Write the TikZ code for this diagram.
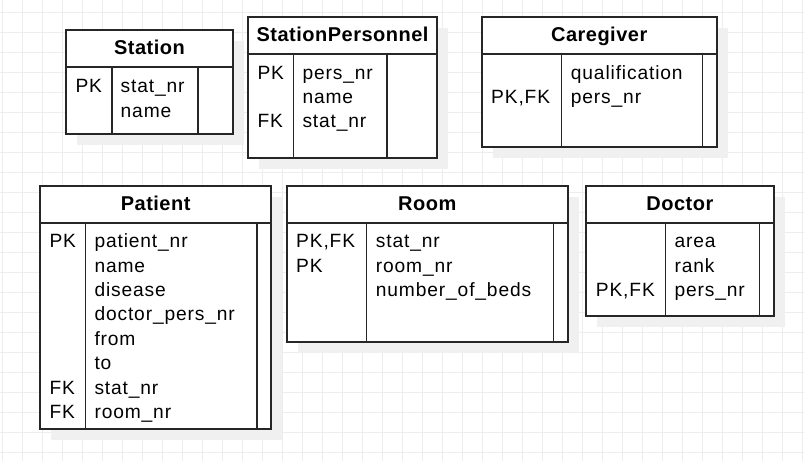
\documentclass[tikz,border=0pt]{standalone}
\usepackage{fontspec}
\newfontfamily\fieldfont{Liberation Sans}[LetterSpace=4.5]
\newfontfamily\titlefont{Liberation Sans}[LetterSpace=2.5]
\usetikzlibrary{shadows}

\begin{document}
\begin{tikzpicture}[x=1pt, y=-1pt]
	\tikzstyle{GridLine}	= [draw=black!7, line width=1pt]
	\tikzstyle{Table}	= [rectangle, draw=black!85, line width=1.7pt, fill=white, inner sep=0pt, outer sep=0pt, anchor=north west, drop shadow={shadow xshift=11pt, shadow yshift=-11pt, fill=black!6, opacity=1}]
	\tikzstyle{Head}	= [minimum height=37pt, text height=14.5pt, text depth=3.5pt, font=\titlefont\bfseries\fontsize{20}{22}\selectfont]
	\tikzstyle{Field}	= [anchor=base west, inner sep=0pt, align=left, font=\fieldfont\fontsize{19.2}{24.4}\selectfont]
	\tikzstyle{Divider}	= [draw=black!85, line width=1.5pt]

	\useasboundingbox (0,0) rectangle (804,461);

	% background grid
	\foreach \gx in {0,...,40}
		\draw [GridLine] (2.7+20*\gx,0) -- (2.7+20*\gx,461);
	\foreach \gy in {0,...,22}
		\draw [GridLine] (0,12.5+20*\gy) -- (804,12.5+20*\gy);

	% Station (field nodes sit on the baseline of their last line)
	\node (stH) at (66,30) [Table][Head, minimum width=167pt] {Station};
	\node (stB) at (66,67) [Table, minimum width=167pt, minimum height=67pt] {};
	\draw [Divider] ([xshift=46pt]stB.north west) -- ([xshift=46pt]stB.south west);
	\draw [Divider] ([xshift=132pt]stB.north west) -- ([xshift=132pt]stB.south west);
	\node (stK) at (75.3,92.7) [Field] {PK};
	\node (stF) at (120.5,117.1) [Field] {stat\_nr\\name};

	% StationPersonnel
	\node (spH) at (248,17) [Table][Head, minimum width=189pt] {StationPersonnel};
	\node (spB) at (248,54) [Table, minimum width=189pt, minimum height=104.3pt] {};
	\draw [Divider] ([xshift=45.3pt]spB.north west) -- ([xshift=45.3pt]spB.south west);
	\draw [Divider] ([xshift=139pt]spB.north west) -- ([xshift=139pt]spB.south west);
	\node (spK) at (257.3,127.8) [Field] {PK\\\mbox{}\\FK};
	\node (spF) at (302.3,127.8) [Field] {pers\_nr\\name\\stat\_nr};

	% Caregiver
	\node (cgH) at (481.7,17) [Table][Head, minimum width=235pt] {Caregiver};
	\node (cgB) at (481.7,54) [Table, minimum width=235pt, minimum height=92.7pt] {};
	\draw [Divider] ([xshift=80pt]cgB.north west) -- ([xshift=80pt]cgB.south west);
	\draw [Divider] ([xshift=220.6pt]cgB.north west) -- ([xshift=220.6pt]cgB.south west);
	\node (cgK) at (491,103.4) [Field] {PK,FK};
	\node (cgF) at (570.7,103.4) [Field] {qualification\\pers\_nr};

	% Patient
	\node (paH) at (40,186) [Table][Head, minimum width=231.3pt] {Patient};
	\node (paB) at (40,223) [Table, minimum width=231.3pt, minimum height=206.3pt] {};
	\draw [Divider] ([xshift=45.7pt]paB.north west) -- ([xshift=45.7pt]paB.south west);
	\draw [Divider] ([xshift=217pt]paB.north west) -- ([xshift=217pt]paB.south west);
	\node (paK) at (49.3,247.7) [Field] {PK};
	\node (paFK) at (49.3,418.5) [Field] {FK\\FK};
	\node (paF) at (94.3,418.5) [Field] {patient\_nr\\name\\disease\\doctor\_pers\_nr\\from\\to\\stat\_nr\\room\_nr};

	% Room
	\node (roH) at (286.7,186) [Table][Head, minimum width=281pt] {Room};
	\node (roB) at (286.7,223) [Table, minimum width=281pt, minimum height=119pt] {};
	\draw [Divider] ([xshift=80pt]roB.north west) -- ([xshift=80pt]roB.south west);
	\draw [Divider] ([xshift=266.6pt]roB.north west) -- ([xshift=266.6pt]roB.south west);
	\node (roK) at (296,272.1) [Field] {PK,FK\\PK};
	\node (roF) at (375.7,296.5) [Field] {stat\_nr\\room\_nr\\number\_of\_beds};

	% Doctor
	\node (doH) at (585.7,186) [Table][Head, minimum width=188.3pt] {Doctor};
	\node (doB) at (585.7,223) [Table, minimum width=188.3pt, minimum height=92.7pt] {};
	\draw [Divider] ([xshift=80pt]doB.north west) -- ([xshift=80pt]doB.south west);
	\draw [Divider] ([xshift=173.6pt]doB.north west) -- ([xshift=173.6pt]doB.south west);
	\node (doK) at (595.7,296.5) [Field] {PK,FK};
	\node (doF) at (674.3,296.5) [Field] {area\\rank\\pers\_nr};
\end{tikzpicture}
\end{document}
